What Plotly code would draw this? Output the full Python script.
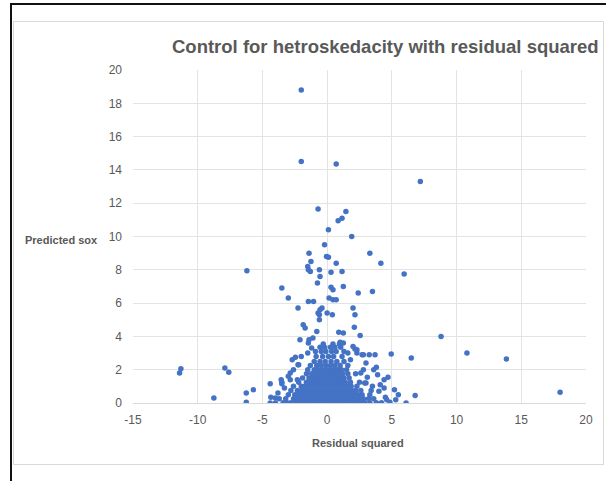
import plotly.graph_objects as go

# Hand-read outlying / sparse points (x = residual squared, y = predicted sox)
sparse_x = [-2.0, -2.0, 0.7, 7.2, -0.7, 1.45, 1.15, 0.85, 0.1, 1.9, -0.2, -0.05, 0.1, -1.4, 3.3,
            -1.25, 0.7, 4.15, -6.2, -1.5, -1.45, -1.3, -0.6, -0.55, 0.3, 1.15, 5.95, -0.75, 0.3,
            0.45, 1.25, 3.5, 2.4, -3.5, -3.0, 0.15, 0.45, 0.7, -1.45, -1.05, -2.25, -0.4, 2.0,
            2.15, 0.0, 0.4, -0.7, 2.1, 2.55, 8.8, 10.8, 6.5, 4.95, 3.25, 3.7, 13.85, 18.0, 6.8,
            6.1, -11.4, -11.3, -7.9, -7.6, -8.75, -6.25, -5.7, -6.25, -4.4, -4.35, -4.4, -4.0,
            -3.55, -3.5, -2.7, -2.45, -2.25, -2.85, -2.3, -2.1, -1.45, -1.4, -0.8, -0.6, -0.6,
            -0.55, -1.85, -1.7, -1.1, 0.9, 1.25, 1.0, 1.25, 2.15, 2.3, 2.7, 2.8, 3.8, 3.6, 3.1,
            3.0, 4.4, 4.7, 4.1, 4.4, 5.2, 5.5, 4.5, 4.85, 2.8, 2.3,
            -3.0, -2.6, -2.2, 2.6, 3.0, 3.5, 4.0, -3.8, -4.0, 5.3, 4.6, -3.3, 2.9, 3.9, -2.0,
            1.8, 2.0, 1.6, -1.5, -1.2, -3.5, -2.85]
sparse_y = [18.8, 14.5, 14.35, 13.3, 11.65, 11.5, 11.1, 10.95, 10.4, 10.0, 9.5, 8.8, 8.75, 9.0, 9.0,
            8.5, 8.4, 8.4, 7.95, 8.2, 8.0, 7.9, 8.0, 7.6, 7.85, 7.9, 7.75, 7.2, 6.95,
            6.8, 7.0, 6.7, 6.6, 6.9, 6.3, 6.3, 6.2, 6.2, 6.1, 6.1, 5.7, 5.7, 5.7,
            5.3, 5.4, 5.3, 5.4, 4.55, 4.05, 4.0, 3.0, 2.7, 2.95, 2.9, 2.9, 2.65, 0.65, 0.45,
            0.0, 1.8, 2.05, 2.1, 1.85, 0.3, 0.6, 0.8, 0.05, 1.15, 0.35, 0.0, 0.0,
            1.4, 1.15, 2.6, 2.75, 2.3, 1.8, 1.4, 3.8, 3.6, 3.8, 4.3, 5.0, 5.3,
            5.6, 4.7, 4.5, 3.9, 4.25, 4.2, 3.65, 3.6, 3.25, 3.0, 2.9, 2.0, 2.15, 2.0, 1.55,
            1.2, 1.4, 1.55, 1.1, 0.9, 0.8, 0.5, 0.35, 0.05, 2.9, 3.2,
            1.6, 2.0, 2.3, 1.8, 2.4, 1.0, 0.7, 0.6, 0.3, 0.2, 0.2, 0.9, 1.2, 1.7, 2.8,
            2.6, 3.4, 3.0, 3.0, 3.3, 1.25, 1.4]

# Hand-read dense core, row by row (y level, x positions)
core_rows = [
    (0.02, [-3.4, -3.1, -2.8, -2.5, -2.2, -1.9, -1.6, -1.3, -1.0, -0.7, -0.4, -0.1, 0.2, 0.5, 0.8,
            1.1, 1.4, 1.7, 2.0, 2.3, 2.6, 2.9, 3.3, 3.8, 4.2]),
    (0.25, [-3.7, -3.2, -2.6, -2.35, -2.05, -1.75, -1.45, -1.15, -0.85, -0.55, -0.25, 0.05, 0.35,
            0.65, 0.95, 1.25, 1.55, 1.85, 2.15, 2.45, 2.8, 3.2, 3.6]),
    (0.5, [-3.0, -2.5, -2.2, -1.9, -1.6, -1.3, -1.0, -0.7, -0.4, -0.1, 0.2, 0.5, 0.8, 1.1, 1.4,
           1.7, 2.0, 2.35, 2.7, 3.3]),
    (0.75, [-2.8, -2.3, -2.0, -1.7, -1.4, -1.1, -0.8, -0.5, -0.2, 0.1, 0.4, 0.7, 1.0, 1.3, 1.6,
            1.9, 2.2, 2.6, 3.4]),
    (1.0, [-2.6, -2.0, -1.75, -1.45, -1.15, -0.85, -0.55, -0.25, 0.05, 0.35, 0.65, 0.95, 1.25,
           1.55, 1.85, 2.3]),
    (1.25, [-2.2, -1.6, -1.3, -1.0, -0.7, -0.4, -0.1, 0.2, 0.5, 0.8, 1.1, 1.4, 1.8, 2.5]),
    (1.5, [-1.9, -1.4, -1.1, -0.8, -0.5, -0.2, 0.1, 0.4, 0.7, 1.0, 1.3, 1.7]),
    (1.75, [-1.6, -1.2, -0.9, -0.6, -0.3, 0.0, 0.3, 0.6, 0.9, 1.2, 1.6, 2.2]),
    (2.0, [-1.5, -1.0, -0.7, -0.4, -0.1, 0.2, 0.5, 0.8, 1.1, 1.5]),
    (2.25, [-1.3, -0.8, -0.45, -0.1, 0.25, 0.6, 1.0, 1.6]),
    (2.5, [-1.0, -0.55, -0.15, 0.3, 0.75, 1.3]),
    (2.8, [-0.85, -0.35, 0.1, 0.5, 1.15]),
    (3.1, [-0.9, -0.45, -0.1, 0.35, 0.7, 1.3]),
    (3.35, [-0.55, -0.2, 0.25, 0.6, 1.05]),
    (3.55, [-0.3, 0.45, 0.95]),
]

x_ticks = [-15, -10, -5, 0, 5, 10, 15, 20]
y_ticks = [0, 2, 4, 6, 8, 10, 12, 14, 16, 18, 20]

core_x = [x for yv, xs in core_rows for x in xs]
core_y = [yv for yv, xs in core_rows for x in xs]

all_x = sparse_x + core_x
all_y = sparse_y + core_y

W, H = 606, 481
L, R, T, B = 133, 20, 70, 78
pw, ph = W - L - R, H - T - B


def px(xp):
    return (xp - L) / pw


def py(yp):
    return (H - B - yp) / ph


fig = go.Figure()
fig.add_trace(go.Scatter(
    x=all_x, y=all_y, mode="markers",
    marker=dict(color="#4472C4", size=5.5, line=dict(width=0)),
    showlegend=False, hoverinfo="x+y",
))

shapes = [
    # outer light gray chart border
    dict(type="rect", xref="paper", yref="paper", x0=px(13.5), x1=px(603.5), y0=py(464.5), y1=py(21.5),
         line=dict(color="#d9d9d9", width=1), fillcolor="rgba(0,0,0,0)", layer="below"),
    # black frame lines (left and top)
    dict(type="line", xref="paper", yref="paper", x0=px(11), x1=px(11), y0=py(3), y1=py(482),
         line=dict(color="#111111", width=2)),
    dict(type="line", xref="paper", yref="paper", x0=px(10), x1=px(607), y0=py(4), y1=py(4),
         line=dict(color="#111111", width=2)),
]

annotations = [
    dict(text="<b>Control for hetroskedacity with residual squared</b>", xref="paper", yref="paper",
         x=px(385), y=py(47), showarrow=False, xanchor="center", yanchor="middle",
         font=dict(family="Liberation Sans, Arial, sans-serif", size=18.5, color="#595959")),
    dict(text="<b>Predicted sox</b>", xref="paper", yref="paper",
         x=px(61), y=py(240), showarrow=False, xanchor="center", yanchor="middle",
         font=dict(family="Liberation Sans, Arial, sans-serif", size=11, color="#595959")),
    dict(text="<b>Residual squared</b>", xref="paper", yref="paper",
         x=px(358), y=py(443), showarrow=False, xanchor="center", yanchor="middle",
         font=dict(family="Liberation Sans, Arial, sans-serif", size=11, color="#595959")),
]

fig.update_layout(
    width=W, height=H,
    margin=dict(l=L, r=R, t=T, b=B, pad=0),
    paper_bgcolor="white", plot_bgcolor="white",
    shapes=shapes, annotations=annotations,
    font=dict(family="Liberation Sans, Arial, sans-serif", size=12, color="#595959"),
)
fig.update_xaxes(range=[-15, 20], tickvals=x_ticks, ticktext=[str(v) for v in x_ticks],
                 showgrid=True, gridcolor="#e3e3e3", gridwidth=1, zeroline=False,
                 showline=True, linecolor="#d9d9d9", ticks="", ticklabelstandoff=6,
                 tickfont=dict(size=12, color="#595959"))
fig.update_yaxes(range=[0, 20], tickvals=y_ticks, ticktext=[str(v) for v in y_ticks],
                 showgrid=True, gridcolor="#e3e3e3", gridwidth=1, zeroline=False,
                 showline=False, ticks="", ticklabelstandoff=10,
                 tickfont=dict(size=12, color="#595959"))

fig.write_html("out.html")
